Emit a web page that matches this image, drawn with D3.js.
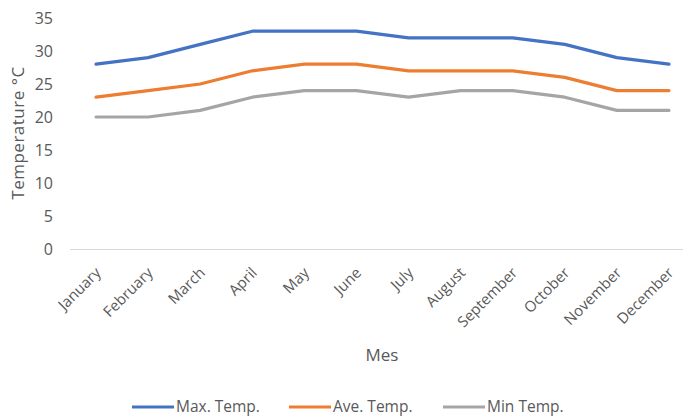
<!DOCTYPE html>
<html><head><meta charset="utf-8">
<script src="https://cdn.jsdelivr.net/npm/d3@7"></script>
<style>body{margin:0;background:#fff}text{font-family:"Open Sans","Liberation Sans",Arial,sans-serif;fill:#595959}</style>
</head><body><svg id="c" width="683" height="416"></svg>
<script>
const months = ["January","February","March","April","May","June","July","August","September","October","November","December"];
const maxTemp = [28,29,31,33,33,33,32,32,32,31,29,28];
const aveTemp = [23,24,25,27,28,28,27,27,27,26,24,24];
const minTemp = [20,20,21,23,24,24,23,24,24,23,21,21];
const seriesNames = ["Max. Temp.","Ave. Temp.","Min Temp."];
const seriesColors = ["#4472C4","#ED7D31","#A5A5A5"];
const yTicks = [0,5,10,15,20,25,30,35];

const svg = d3.select("#c");
const x = d3.scaleBand().domain(months).range([70,695]);
const y = d3.scaleLinear().domain([0,35]).range([249,18]);

// y tick labels
svg.append("g").selectAll("text").data(yTicks).join("text")
  .attr("x",53).attr("y",d=>y(d)).attr("dy","0.36em")
  .attr("text-anchor","end").attr("font-size",16).text(d=>d);

// axis line
svg.append("line").attr("x1",70).attr("x2",695).attr("y1",y(0)+0.5).attr("y2",y(0)+0.5)
  .attr("stroke","#D9D9D9").attr("stroke-width",1);

// x labels
svg.append("g").selectAll("text").data(months).join("text")
  .attr("transform",d=>`translate(${x(d)+x.bandwidth()/2+2},${270}) rotate(-45)`)
  .attr("text-anchor","end").attr("dy","0.35em").attr("font-size",15).text(d=>d);

// lines
const line = d3.line().x((d,i)=>x(months[i])+x.bandwidth()/2).y(d=>y(d));
[maxTemp,aveTemp,minTemp].forEach((s,k)=>{
  svg.append("path").attr("d",line(s)).attr("fill","none")
    .attr("stroke",seriesColors[k]).attr("stroke-width",3.2)
    .attr("stroke-linejoin","round").attr("stroke-linecap","round");
});

// axis titles
svg.append("text").attr("transform","translate(24,133) rotate(-90)")
  .attr("text-anchor","middle").attr("font-size",17).attr("letter-spacing",0.5).text("Temperature °C");
svg.append("text").attr("x",382).attr("y",361).attr("text-anchor","middle")
  .attr("font-size",17).text("Mes");

// legend
const legX = [132,289,443];
const lg = svg.append("g").selectAll("g").data(seriesNames).join("g")
  .attr("transform",(d,i)=>`translate(${legX[i]},407)`);
lg.append("line").attr("x1",0).attr("x2",42).attr("y1",0).attr("y2",0)
  .attr("stroke",(d,i)=>seriesColors[i]).attr("stroke-width",3.2);
lg.append("text").attr("x",44).attr("y",4.5).attr("font-size",15.5).text(d=>d);
</script></body></html>
